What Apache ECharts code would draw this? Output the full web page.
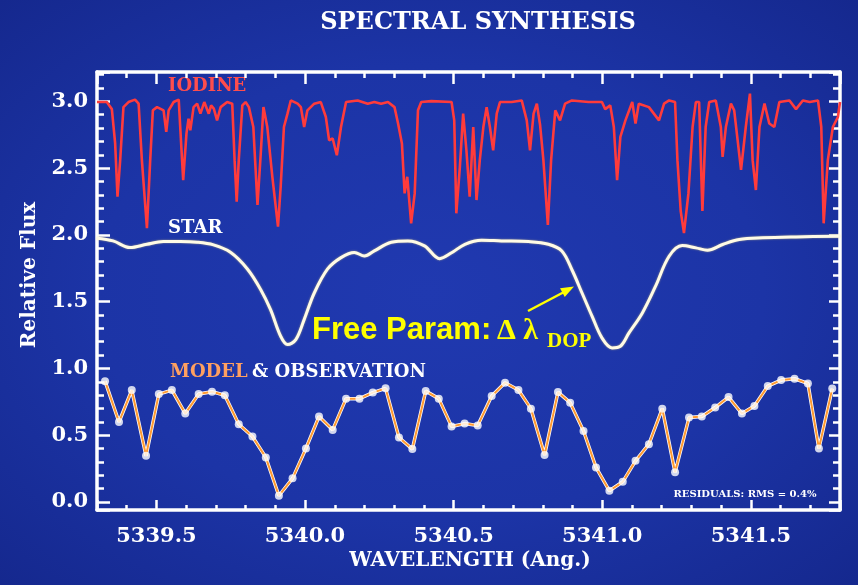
<!DOCTYPE html>
<html>
<head>
<meta charset="utf-8">
<script src="https://cdn.jsdelivr.net/npm/echarts@6/dist/echarts.min.js"></script>
<style>
html,body{margin:0;padding:0;width:858px;height:585px;overflow:hidden;}
body{background:radial-gradient(ellipse at 50% 50%, #2039b0 0%, #1c34a6 55%, #15288e 100%);}
#chart{width:858px;height:585px;}
</style>
</head>
<body>
<div id="chart"></div>
<script>
// ---------- data ----------
const xMajorTicks = [5339.5, 5340.0, 5340.5, 5341.0, 5341.5];
const yMajorTicks = [0.0, 0.5, 1.0, 1.5, 2.0, 2.5, 3.0];

const iodineWl = [5339.300,5339.333,5339.350,5339.361,5339.369,5339.378,5339.389,5339.406,5339.428,5339.440,5339.451,5339.468,5339.479,5339.488,5339.502,5339.524,5339.533,5339.541,5339.558,5339.575,5339.580,5339.590,5339.601,5339.608,5339.614,5339.625,5339.637,5339.648,5339.661,5339.676,5339.684,5339.693,5339.704,5339.716,5339.738,5339.755,5339.763,5339.770,5339.777,5339.789,5339.800,5339.811,5339.826,5339.840,5339.851,5339.860,5339.873,5339.890,5339.909,5339.918,5339.929,5339.941,5339.952,5339.975,5339.986,5339.997,5340.008,5340.031,5340.053,5340.070,5340.081,5340.093,5340.107,5340.121,5340.138,5340.177,5340.211,5340.233,5340.256,5340.279,5340.301,5340.313,5340.326,5340.335,5340.344,5340.357,5340.369,5340.380,5340.391,5340.425,5340.493,5340.502,5340.509,5340.521,5340.532,5340.543,5340.554,5340.566,5340.577,5340.588,5340.600,5340.611,5340.622,5340.633,5340.645,5340.656,5340.695,5340.729,5340.746,5340.757,5340.769,5340.780,5340.791,5340.802,5340.817,5340.828,5340.842,5340.858,5340.875,5340.898,5340.954,5340.999,5341.010,5341.027,5341.039,5341.050,5341.061,5341.078,5341.101,5341.112,5341.123,5341.157,5341.191,5341.208,5341.225,5341.245,5341.253,5341.264,5341.275,5341.290,5341.304,5341.315,5341.326,5341.337,5341.348,5341.360,5341.382,5341.399,5341.405,5341.416,5341.433,5341.444,5341.467,5341.483,5341.497,5341.506,5341.517,5341.529,5341.546,5341.562,5341.579,5341.596,5341.630,5341.652,5341.675,5341.698,5341.726,5341.737,5341.745,5341.759,5341.776,5341.793,5341.800];
const iodineFlux = [2.995,2.995,2.942,2.687,2.286,2.560,2.957,2.995,3.013,2.983,2.560,2.050,2.560,2.933,2.957,2.933,2.771,2.933,2.995,3.013,2.808,2.410,2.759,2.871,2.784,2.957,2.983,2.908,2.995,2.908,2.970,2.946,2.858,2.957,2.995,2.983,2.560,2.249,2.560,2.970,2.995,2.957,2.808,2.224,2.610,2.957,2.808,2.435,2.062,2.360,2.808,2.908,3.007,2.983,2.957,2.808,2.933,2.983,2.995,2.883,2.709,2.722,2.597,2.808,2.995,3.007,2.983,2.995,2.983,2.995,2.957,2.834,2.684,2.311,2.435,2.087,2.311,2.933,2.995,3.002,2.995,2.858,2.162,2.510,2.908,2.634,2.286,2.808,2.261,2.560,2.808,2.957,2.808,2.634,2.908,2.995,2.995,3.007,2.858,2.634,2.908,2.983,2.821,2.560,2.075,2.560,2.933,2.858,2.983,3.007,2.995,2.995,2.942,2.970,2.808,2.410,2.734,2.858,2.995,2.834,2.983,2.957,2.858,2.983,3.007,2.995,2.560,2.179,2.013,2.311,2.808,2.995,2.995,2.179,2.808,2.995,3.007,2.808,2.584,2.808,2.983,2.933,2.487,2.808,3.058,2.560,2.336,2.808,2.983,2.834,2.808,2.995,3.007,2.942,3.007,2.995,3.007,2.808,2.087,2.560,2.808,2.883,2.995];

const starWl = [5339.300,5339.354,5339.411,5339.468,5339.523,5339.580,5339.637,5339.692,5339.749,5339.806,5339.851,5339.884,5339.918,5339.941,5339.969,5339.997,5340.031,5340.076,5340.121,5340.166,5340.200,5340.233,5340.290,5340.346,5340.402,5340.453,5340.493,5340.538,5340.594,5340.661,5340.752,5340.819,5340.864,5340.898,5340.932,5340.966,5340.999,5341.033,5341.061,5341.090,5341.135,5341.179,5341.225,5341.269,5341.315,5341.354,5341.405,5341.461,5341.540,5341.652,5341.800];
const starFlux = [1.975,1.955,1.905,1.930,1.950,1.950,1.945,1.925,1.870,1.745,1.590,1.440,1.241,1.179,1.216,1.366,1.565,1.745,1.830,1.868,1.842,1.880,1.945,1.955,1.918,1.822,1.866,1.930,1.960,1.955,1.950,1.930,1.880,1.739,1.565,1.390,1.229,1.154,1.166,1.266,1.416,1.614,1.840,1.920,1.903,1.886,1.928,1.965,1.978,1.985,1.990];

const obsWl = [5339.327,5339.374,5339.417,5339.465,5339.508,5339.552,5339.597,5339.642,5339.687,5339.730,5339.777,5339.823,5339.868,5339.912,5339.958,5340.003,5340.047,5340.093,5340.138,5340.183,5340.228,5340.271,5340.316,5340.361,5340.406,5340.450,5340.493,5340.537,5340.581,5340.628,5340.673,5340.718,5340.760,5340.806,5340.851,5340.892,5340.937,5340.979,5341.024,5341.069,5341.112,5341.157,5341.202,5341.245,5341.292,5341.335,5341.380,5341.425,5341.470,5341.512,5341.557,5341.602,5341.647,5341.692,5341.729,5341.774];
const obsFlux = [0.905,0.599,0.838,0.346,0.808,0.838,0.662,0.808,0.826,0.799,0.582,0.490,0.334,0.047,0.177,0.401,0.640,0.540,0.774,0.774,0.819,0.851,0.483,0.396,0.831,0.774,0.565,0.587,0.572,0.793,0.893,0.838,0.699,0.351,0.823,0.744,0.532,0.259,0.084,0.151,0.308,0.433,0.699,0.222,0.632,0.640,0.707,0.786,0.662,0.719,0.868,0.913,0.923,0.888,0.401,0.849];
const modelFlux = obsFlux.slice();

// ---------- helpers ----------
const X_MIN = 5339.3, X_MAX = 5341.8, Y_MIN = -0.06, Y_MAX = 3.22;
const zip = (a, b) => a.map((v, i) => [v, b[i]]);
const isMajor = (list, v) => list.some(t => Math.abs(t - v) < 1e-6);
const tickFont = '"DejaVu Serif", "Liberation Serif", serif';
const WHITE = '#ffffff';

function xAx(pos, len, minorLen, withLabel) {
  return {
    type: 'value', position: pos, min: X_MIN, max: X_MAX,
    minInterval: 0.5, maxInterval: 0.5, splitNumber: 5,
    axisLine: { show: true, onZero: false, lineStyle: { color: WHITE, width: 3.5 } },
    axisTick: { show: true, inside: true, length: len, lineStyle: { color: WHITE, width: 2.5 } },
    minorTick: { show: true, splitNumber: 5, length: minorLen, lineStyle: { color: WHITE, width: 2.5 } },
    axisLabel: {
      show: withLabel, color: WHITE, fontFamily: tickFont, fontWeight: 'bold', fontSize: 21,
      margin: 16, showMinLabel: false, showMaxLabel: false,
      formatter: v => isMajor(xMajorTicks, v) ? v.toFixed(1) : ''
    },
    splitLine: { show: false }, minorSplitLine: { show: false }
  };
}
function yAx(pos, len, minorLen, withLabel) {
  return {
    type: 'value', position: pos, min: Y_MIN, max: Y_MAX,
    minInterval: 0.5, maxInterval: 0.5, splitNumber: 6,
    axisLine: { show: true, onZero: false, lineStyle: { color: WHITE, width: 3.5 } },
    axisTick: { show: true, inside: true, length: len, lineStyle: { color: WHITE, width: 2.5 } },
    minorTick: { show: true, splitNumber: 5, length: minorLen, lineStyle: { color: WHITE, width: 2.5 } },
    axisLabel: {
      show: withLabel, color: WHITE, fontFamily: tickFont, fontWeight: 'bold', fontSize: 21,
      margin: 9, showMinLabel: false, showMaxLabel: false,
      formatter: v => isMajor(yMajorTicks, v) ? v.toFixed(1) : ''
    },
    splitLine: { show: false }, minorSplitLine: { show: false }
  };
}

const chart = echarts.init(document.getElementById('chart'), null, { renderer: 'canvas' });
const serifBold = '"DejaVu Serif", "Liberation Serif", serif';
const mid = (o) => Object.assign({ verticalAlign: 'middle', textVerticalAlign: 'middle' }, o);

const option = {
  backgroundColor: 'transparent',
  animation: false,
  grid: { left: 97, right: 18, top: 72, bottom: 75, containLabel: false },
  xAxis: [
    xAx('bottom', 10, 5, true),
    xAx('top', 12, 6, false)
  ],
  yAxis: [
    yAx('left', 13, 7, true),
    yAx('right', 11, 7, false)
  ],
  series: [
    {
      name: 'IODINE', type: 'line', xAxisIndex: 0, yAxisIndex: 0,
      data: zip(iodineWl, iodineFlux), showSymbol: false, symbol: 'none',
      lineStyle: { color: '#ff3b3b', width: 2.6 }, z: 3
    },
    {
      name: 'STAR', type: 'line', xAxisIndex: 0, yAxisIndex: 0,
      data: zip(starWl, starFlux), showSymbol: false, symbol: 'none', smooth: 0.35,
      lineStyle: { color: '#fffbe6', width: 3, shadowColor: 'rgba(255,230,120,0.6)', shadowBlur: 2 }, z: 3
    },
    {
      name: 'OBSERVATION', type: 'line', xAxisIndex: 0, yAxisIndex: 0,
      data: zip(obsWl, obsFlux), showSymbol: false, symbol: 'none',
      lineStyle: { color: '#ffffff', width: 3.5 }, z: 3
    },
    {
      name: 'MODEL', type: 'line', xAxisIndex: 0, yAxisIndex: 0,
      data: zip(obsWl, modelFlux), showSymbol: false, symbol: 'none',
      lineStyle: { color: '#ff9a30', width: 2 }, z: 4
    },
    {
      name: 'OBS POINTS', type: 'scatter', xAxisIndex: 0, yAxisIndex: 0,
      data: zip(obsWl, obsFlux), symbol: 'circle', symbolSize: 8,
      itemStyle: { color: '#ffffff' }, z: 5
    }
  ],
  graphic: [
    { type: 'text', x: 478, y: 23, style: mid({ text: 'SPECTRAL SYNTHESIS', fill: '#ffffff', font: 'bold 24px ' + serifBold, align: 'center', textAlign: 'center' }) },
    { type: 'text', x: 168, y: 86, style: mid({ text: 'IODINE', fill: '#ff4d4d', font: 'bold 18px ' + serifBold, align: 'left', textAlign: 'left' }) },
    { type: 'text', x: 168, y: 228, style: mid({ text: 'STAR', fill: '#ffffff', font: 'bold 18px ' + serifBold, align: 'left', textAlign: 'left' }) },
    { type: 'text', x: 170, y: 372, style: mid({ text: 'MODEL', fill: '#ffa060', font: 'bold 18px ' + serifBold, align: 'left', textAlign: 'left' }) },
    { type: 'text', x: 252, y: 372, style: mid({ text: '& OBSERVATION', fill: '#ffffff', font: 'bold 18px ' + serifBold, align: 'left', textAlign: 'left' }) },
    { type: 'text', x: 312, y: 330, style: mid({ text: 'Free Param:', fill: '#ffff00', font: 'bold 31px "Liberation Sans", Arial, sans-serif', align: 'left', textAlign: 'left' }) },
    { type: 'text', x: 497, y: 331, style: mid({ text: 'Δ λ', fill: '#ffff00', font: 'bold 30px "Liberation Serif", serif', align: 'left', textAlign: 'left' }) },
    { type: 'text', x: 547, y: 342, style: mid({ text: 'DOP', fill: '#ffff00', font: 'bold 21px "Liberation Serif", serif', align: 'left', textAlign: 'left' }) },
    { type: 'line', shape: { x1: 528, y1: 311, x2: 566, y2: 291 }, style: { stroke: '#ffff00', lineWidth: 2.5 } },
    { type: 'polygon', shape: { points: [[574, 286.5], [564.75, 297.0], [560.05, 288.2]] }, style: { fill: '#ffff00' } },
    { type: 'text', x: 745, y: 494, style: mid({ text: 'RESIDUALS: RMS = 0.4%', fill: '#ffffff', font: 'bold 10px ' + serifBold, align: 'center', textAlign: 'center' }) },
    { type: 'text', x: 470, y: 561, style: mid({ text: 'WAVELENGTH (Ang.)', fill: '#ffffff', font: 'bold 20px ' + serifBold, align: 'center', textAlign: 'center' }) },
    { type: 'text', x: 30, y: 275, rotation: Math.PI / 2, style: mid({ text: 'Relative Flux', fill: '#ffffff', font: 'bold 20px ' + serifBold, align: 'center', textAlign: 'center' }) }
  ]
};
chart.setOption(option);
</script>
</body>
</html>
